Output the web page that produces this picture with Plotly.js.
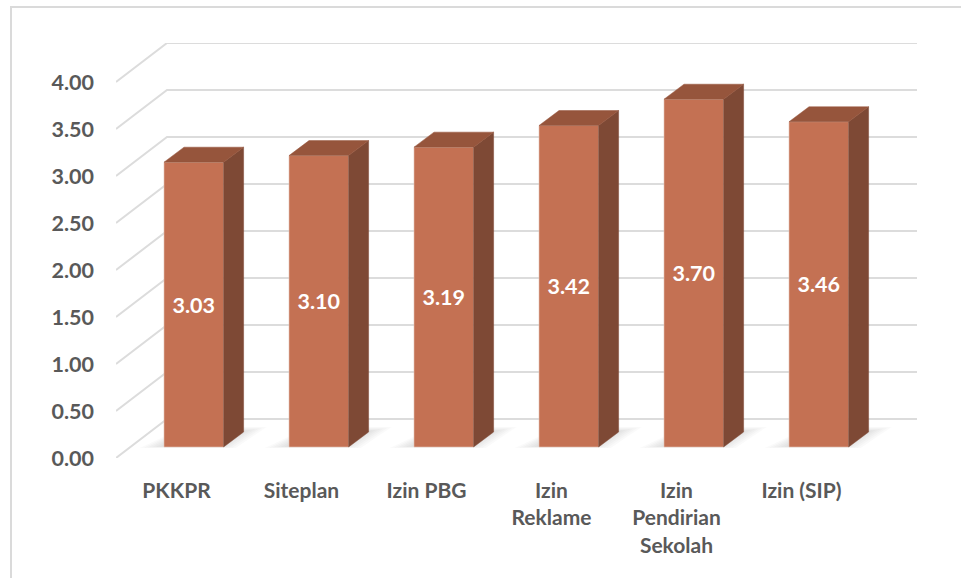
<!DOCTYPE html>
<html><head><meta charset="utf-8">
<script src="https://cdn.plot.ly/plotly-3.0.1.min.js"></script>
<style>html,body{margin:0;padding:0;background:#fff}#c{width:961px;height:578px}</style></head>
<body><div id="c"></div>
<script>
const categories = ['PKKPR','Siteplan','Izin PBG','Izin<br>Reklame','Izin<br>Pendirian<br>Sekolah','Izin (SIP)'];
const values = [3.03,3.10,3.19,3.42,3.70,3.46];
const valueLabels = ['3.03','3.10','3.19','3.42','3.70','3.46'];
const yTicks = [0,0.5,1,1.5,2,2.5,3,3.5,4];
const yTickLabels = ['0.00','0.50','1.00','1.50','2.00','2.50','3.00','3.50','4.00'];

const W=961,H=578;
const plotL=116, plotR=917, plotT=43, plotB=458;
const pxPerCat=125, pxPerUnit=94, cat0Px=176.5;
const xr=[(plotL-cat0Px)/pxPerCat,(plotR-cat0Px)/pxPerCat];
const yr=[0,(plotB-plotT)/pxPerUnit];
const dxPx=v=>v/pxPerCat, dyPx=v=>v/pxPerUnit;

const wallDX=dxPx(51), wallDY=dyPx(39);
const barDX=dxPx(17.3), barDY=dyPx(11);
const barW=dxPx(59.6), sideDX=dxPx(20), sideDY=dyPx(15);

const idx=categories.map((_,i)=>i);
const front=idx.map(i=>i+barDX);

const shapes=[];
const px=v=>(v-plotL)/(plotR-plotL), py=v=>(plotB-v)/(plotB-plotT);
const frame={type:'line',xref:'paper',yref:'paper',line:{color:'#DADADA',width:2},layer:'below'};
shapes.push(Object.assign({},frame,{x0:px(10),x1:px(W),y0:py(7),y1:py(7)}));
shapes.push(Object.assign({},frame,{x0:px(11),x1:px(11),y0:py(7),y1:py(H)}));
yTicks.forEach(t=>{
  shapes.push({type:'path',xref:'x',yref:'y',layer:'below',
    path:`M ${xr[0]} ${t} L ${xr[0]+wallDX} ${t+wallDY} L ${xr[1]} ${t+wallDY}`,
    line:{color:'#DCDCDC',width:2}});
});
// soft floor shadows, built up from nested translucent layers
[0,3,6,9,12,15].forEach(g=>{
  front.forEach(x=>{
    const r=x+barW/2, l=x-barW/2, b=barDY-dyPx(1);
    const q=[[l-dxPx(24-1.3*g),b+dyPx(g*0.08)],
             [r+dxPx(12-g),b+dyPx(g*0.08)],
             [r+sideDX+dxPx(23-1.3*g),b+sideDY+dyPx(6-g*0.25)],
             [l+sideDX,b+sideDY+dyPx(6-g*0.25)]];
    shapes.push({type:'path',xref:'x',yref:'y',layer:'below',
      path:'M '+q.map(c=>c.join(' ')).join(' L ')+' Z',
      fillcolor:'rgba(110,110,110,0.035)',line:{width:0}});
  });
});

function poly(pts){return pts.concat([pts[0],[null,null]]);}
let sideP=[],topP=[];
values.forEach((v,i)=>{
  const l=front[i]-barW/2,r=front[i]+barW/2,b=barDY,t=barDY+v;
  sideP=sideP.concat(poly([[r,b],[r+sideDX,b+sideDY],[r+sideDX,t+sideDY],[r,t]]));
  topP=topP.concat(poly([[l,t],[l+sideDX,t+sideDY],[r+sideDX,t+sideDY],[r,t]]));
});
const face=(pts,color)=>({type:'scatter',mode:'lines',x:pts.map(p=>p[0]),y:pts.map(p=>p[1]),
  fill:'toself',fillcolor:color,line:{color:color,width:0.5},hoverinfo:'skip',showlegend:false,connectgaps:false});

const data=[
 {type:'bar',x:front,y:values,base:values.map(()=>barDY),width:barW,
  marker:{color:'#C47153',line:{color:'#E4C4B6',width:0.6}},
  text:valueLabels,textposition:'inside',insidetextanchor:'middle',textangle:0,constraintext:'none',
  textfont:{family:'Lato, sans-serif',size:21.5,color:'#FFFFFF',weight:700},
  hoverinfo:'skip',showlegend:false},
 face(sideP,'#7E4935'),
 face(topP,'#96553C')
];
const layout={
  width:W,height:H,paper_bgcolor:'#fff',plot_bgcolor:'rgba(0,0,0,0)',showlegend:false,
  margin:{l:plotL,r:W-plotR,t:plotT,b:H-plotB,pad:0},
  xaxis:{type:'linear',range:xr,tickmode:'array',tickvals:idx,ticktext:categories,showgrid:false,zeroline:false,showline:false,ticks:'',
    ticklabelstandoff:18,tickangle:0,tickfont:{family:'Lato, sans-serif',size:21,color:'#595959',weight:700}},
  yaxis:{range:yr,tickmode:'array',tickvals:yTicks,ticktext:yTickLabels,showgrid:false,zeroline:false,showline:false,ticks:'',
    ticklabelstandoff:21,tickfont:{family:'Lato, sans-serif',size:21.5,color:'#595959',weight:700}},
  shapes:shapes
};
Plotly.newPlot('c',data,layout,{displayModeBar:false,responsive:false});
</script></body></html>
